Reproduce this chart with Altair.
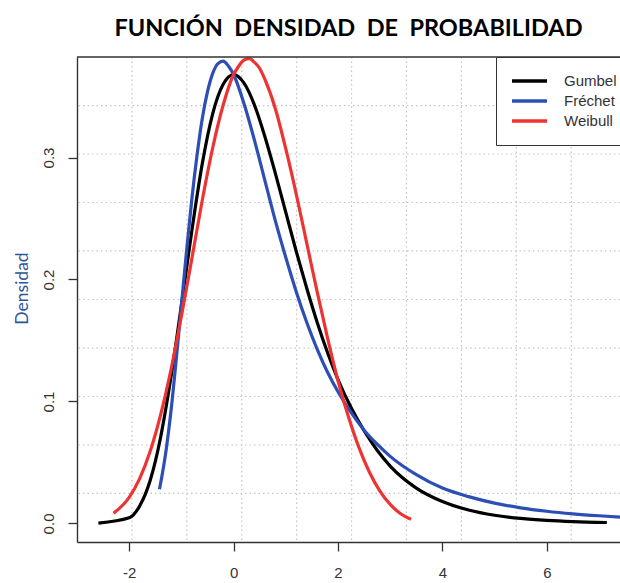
import altair as alt
import pandas as pd

# ---- data ----
gumbel_x = [-2.59, -2.0, -1.8, -1.6, -1.4, -1.2, -1.0, -0.8, -0.6, -0.4, -0.2, 0.0, 0.2, 0.4, 0.6, 0.8,
            1.0, 1.2, 1.4, 1.6, 1.8, 2.0, 2.25, 2.5, 2.75, 3.0, 3.5, 4.0, 4.5, 5.0, 5.5, 6.0, 6.5, 7.15]
gumbel_y = [0.0003, 0.0046, 0.0143, 0.0350, 0.0703, 0.120, 0.179, 0.240, 0.295, 0.336, 0.360, 0.368, 0.361,
            0.343, 0.317, 0.287, 0.255, 0.223, 0.193, 0.165, 0.140, 0.118, 0.095, 0.076, 0.060, 0.047, 0.029,
            0.018, 0.011, 0.0067, 0.0041, 0.0025, 0.0015, 0.0008]

frechet_x = [-1.42, -1.3, -1.2, -1.1, -1.0, -0.9, -0.8, -0.7, -0.6, -0.5, -0.4, -0.3, -0.2, -0.1, 0.0, 0.2,
             0.4, 0.6, 0.8, 1.0, 1.2, 1.4, 1.6, 1.8, 2.0, 2.25, 2.5, 2.75, 3.0, 3.5, 4.0, 4.5, 5.0, 5.5, 6.0,
             6.5, 7.0, 7.5]
frechet_y = [0.028, 0.058, 0.092, 0.134, 0.179, 0.224, 0.266, 0.302, 0.332, 0.354, 0.369, 0.377, 0.379, 0.375,
             0.368, 0.344, 0.314, 0.281, 0.248, 0.218, 0.190, 0.165, 0.143, 0.124, 0.108, 0.091, 0.0765, 0.065,
             0.055, 0.040, 0.029, 0.022, 0.0167, 0.0128, 0.0100, 0.0079, 0.0063, 0.0050]

weibull_x = [-2.3, -2.0, -1.8, -1.6, -1.4, -1.2, -1.0, -0.8, -0.6, -0.4, -0.2, 0.0, 0.1, 0.2, 0.3, 0.4, 0.5,
             0.6, 0.8, 1.0, 1.2, 1.4, 1.6, 1.8, 2.0, 2.2, 2.4, 2.6, 2.8, 3.0, 3.2, 3.4]
weibull_y = [0.0083, 0.0214, 0.0367, 0.0589, 0.0888, 0.126, 0.170, 0.217, 0.265, 0.308, 0.343, 0.368, 0.375,
             0.380, 0.381, 0.378, 0.373, 0.364, 0.340, 0.307, 0.270, 0.230, 0.190, 0.152, 0.117, 0.0875,
             0.0624, 0.0422, 0.0268, 0.0156, 0.0080, 0.0034]

series_names = ["Gumbel", "Fréchet", "Weibull"]
series_colors = ["#000000", "#2D4FB5", "#EE3333"]

grid_x = [-1.948, -0.896, 0.156, 1.208, 2.26, 3.312, 4.364, 5.416, 6.468]
grid_y = [0.0246, 0.0643, 0.1041, 0.1438, 0.1836, 0.2234, 0.2631, 0.3029, 0.3426]

x_ticks = [-2, 0, 2, 4, 6]
y_ticks = [0.0, 0.1, 0.2, 0.3]
x_domain = [-3.0, 7.402]
y_domain = [-0.0152, 0.3824]

title_text = "FUNCIÓN\u00a0 DENSIDAD\u00a0 DE\u00a0 PROBABILIDAD"
y_title = "Densidad"

# ---- chart ----
frames = []
for name, xs, ys in [("Gumbel", gumbel_x, gumbel_y), ("Fréchet", frechet_x, frechet_y),
                     ("Weibull", weibull_x, weibull_y)]:
    frames.append(pd.DataFrame({"x": xs, "y": ys, "serie": name}))

x_scale = alt.Scale(domain=x_domain, nice=False, zero=False)
y_scale = alt.Scale(domain=y_domain, nice=False, zero=False)
color_scale = alt.Scale(domain=series_names, range=series_colors)

box_color = "#333333"
x_axis = alt.Axis(values=x_ticks, title=None, grid=False, tickSize=9, tickColor=box_color,
                  domainColor=box_color, domainWidth=1.4, tickWidth=1.3, labelFont="Liberation Sans",
                  labelFontSize=15, labelColor="#333333", labelPadding=14, labelFlush=False,
                  labelExpr="datum.value < 0 ? '-' + abs(datum.value) : '' + datum.value")
y_axis = alt.Axis(values=y_ticks, format=".1f", title=y_title, grid=False, tickSize=9, tickColor=box_color,
                  domainColor=box_color, domainWidth=1.4, tickWidth=1.3, labelFont="Liberation Sans",
                  labelFontSize=15, labelColor="#333333", labelPadding=12, labelAngle=270,
                  labelAlign="center", labelBaseline="bottom", labelFlush=False,
                  titleFont="Lato", titleFontSize=17.5, titleFontWeight="normal", titleColor="#2F5597",
                  titleAngle=270, titleX=-55, titleY=231, titleBaseline="middle", titleAlign="center")

def X(field):
    return alt.X(field, type="quantitative", scale=x_scale, axis=x_axis)

def Y(field):
    return alt.Y(field, type="quantitative", scale=y_scale, axis=y_axis)

vgrid = alt.Chart(pd.DataFrame({"gx": grid_x})).mark_rule(
    color="#c4c4c4", strokeDash=[1.5, 3], strokeWidth=1.2).encode(x=X("gx"))
hgrid = alt.Chart(pd.DataFrame({"gy": grid_y})).mark_rule(
    color="#c4c4c4", strokeDash=[1.5, 3], strokeWidth=1.2).encode(y=Y("gy"))

legend = alt.Legend(title=None, orient="none", legendX=419, legendY=0, symbolType="stroke",
                    symbolStrokeWidth=3.5, symbolSize=1225, labelFont="Liberation Sans", labelFontSize=15,
                    labelColor="#333333", padding=14, strokeColor=box_color, fillColor="white",
                    labelOffset=15, rowPadding=0, clipHeight=20)

lines = []
for f in frames:
    lines.append(alt.Chart(f).mark_line(strokeWidth=3.2, interpolate="monotone", clip=True).encode(
        x=X("x"), y=Y("y"), order="x:Q",
        color=alt.Color("serie:N", scale=color_scale, legend=legend)))

top_border = alt.Chart(pd.DataFrame({"a": [0]})).mark_rule(color=box_color, strokeWidth=1.4).encode(
    x=alt.value(0), x2=alt.value(543), y=alt.value(0))

chart = alt.layer(vgrid, hgrid, *lines, top_border).properties(
    width=543, height=485,
    title=alt.Title(title_text, font="Lato", fontSize=23.5, fontWeight="bold", color="#000000",
                    anchor="middle", offset=0, dy=3, baseline="alphabetic"),
    padding={"left": 77, "top": 57, "right": 0, "bottom": 41},
    autosize=alt.AutoSizeParams(type="none"),
).configure_view(stroke=None)

chart.save("out.html", embed_options={"renderer": "svg", "actions": False})
